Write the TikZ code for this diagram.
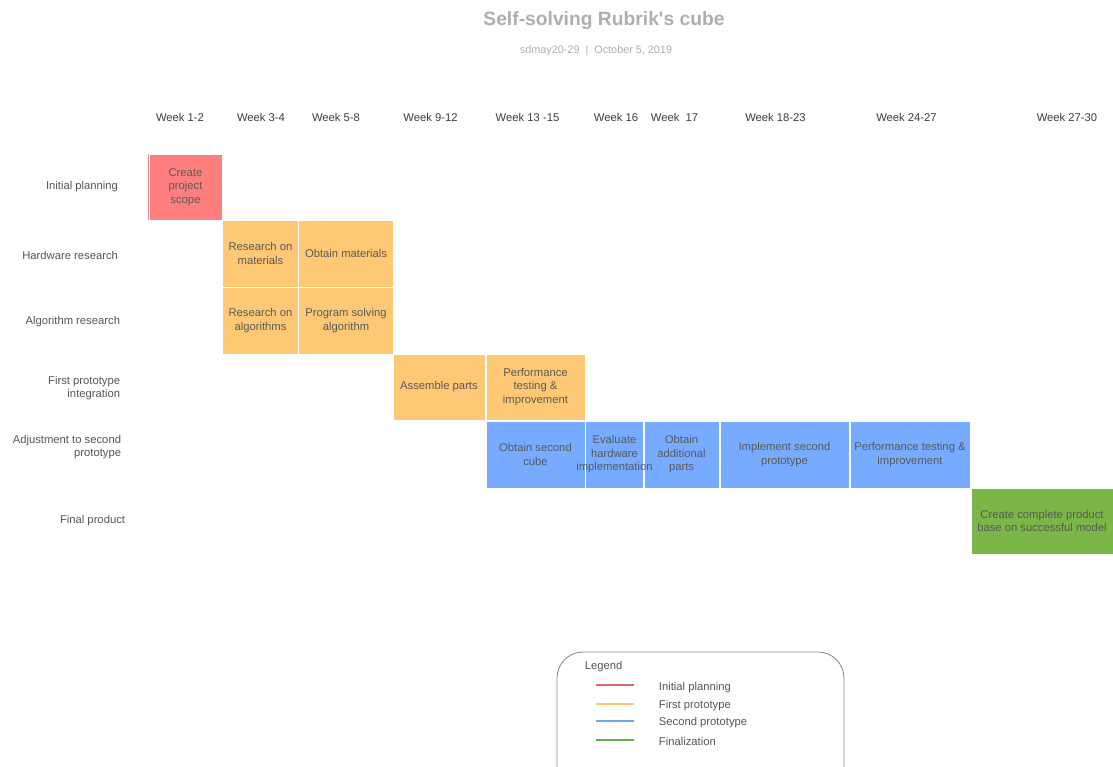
\documentclass[tikz,border=0pt]{standalone}
\usepackage{fontspec}
\setmainfont{Liberation Sans}
\definecolor{planred}{HTML}{FF7F7F}
\definecolor{planedge}{HTML}{E88A96}
\definecolor{protoorange}{HTML}{FFC874}
\definecolor{secondblue}{HTML}{76ABFF}
\definecolor{finalgreen}{HTML}{7AB648}
\definecolor{titlegray}{HTML}{AEAEAE}
\definecolor{weektext}{HTML}{3C3C3C}
\definecolor{rowtext}{HTML}{555555}
\definecolor{boxtext}{HTML}{5A5A5A}
\definecolor{legendline}{HTML}{8A8A8A}
\definecolor{legred}{HTML}{E06666}
\definecolor{legorange}{HTML}{FFC874}
\definecolor{legblue}{HTML}{6FA8DC}
\definecolor{leggreen}{HTML}{6AA84F}
\tikzset{
  small/.style={font=\fontsize{8}{9.6}\selectfont},
  weeklabel/.style={small, text=weektext},
  rowlabel/.style={small, text=rowtext, align=right, anchor=east},
  taskbox/.style={small, text=boxtext, align=center, draw=white, line width=0.5pt, inner sep=1pt,
                  minimum width=#1*0.025cm},
  taskboxh/.style={minimum height=#1*0.025cm},
  legendtext/.style={small, text=rowtext, anchor=west},
}
\begin{document}
\begin{tikzpicture}[x=0.025cm, y=-0.025cm]
                \useasboundingbox (0,0) rectangle (1113,767);
                \node[font=\bfseries\fontsize{13.7}{16}\selectfont, text=titlegray] (title) at (604,21) {Self-solving Rubrik\textquotesingle s cube};
                \node[font=\fontsize{7.7}{9}\selectfont, text=titlegray] (subtitle) at (596,51) {sdmay20-29 \ | \ October 5, 2019};

                \node[weeklabel] (w1) at (180,117) {Week 1-2};
                \node[weeklabel] (w3) at (261,117) {Week 3-4};
                \node[weeklabel] (w5) at (336,117) {Week 5-8};
                \node[weeklabel] (w9) at (430.5,117) {Week 9-12};
                \node[weeklabel] (w13) at (527.5,117) {Week 13 -15};
                \node[weeklabel] (w16) at (616,117) {Week 16};
                \node[weeklabel] (w17) at (674.5,117) {Week\ \ 17};
                \node[weeklabel] (w18) at (775.5,117) {Week 18-23};
                \node[weeklabel] (w24) at (906.5,117) {Week 24-27};
                \node[weeklabel] (w27) at (1067,117) {Week 27-30};

                \node[rowlabel] (planning) at (123,187) {Initial planning};
                \node[rowlabel] (hardware) at (123,255) {Hardware research};
                \node[rowlabel] (algorithm) at (125,322) {Algorithm research};
                \node[rowlabel] (firstproto) at (125,388) {First prototype\\integration};
                \node[rowlabel] (adjust) at (126,447) {Adjustment to second\\prototype};
                \node[rowlabel] (finalrow) at (130,521) {Final product};

                \node[taskbox=73, taskboxh=66, fill=planred] (scope) at (185.5,187) {Create\\project\\scope};
                \draw[planedge, line width=1pt] (scope.north west) -- (scope.south west);

                \node[taskbox=76, taskboxh=67, fill=protoorange] (resmat) at (260.5,253.5) {Research on\\materials};
                \node[taskbox=95, taskboxh=67, fill=protoorange] (obtmat) at (346,253.5) {Obtain materials};
                \node[taskbox=76, taskboxh=67, fill=protoorange] (resalg) at (260.5,320.5) {Research on\\algorithms};
                \node[taskbox=95, taskboxh=67, fill=protoorange] (progalg) at (346,320.5) {Program solving\\algorithm};
                \node[taskbox=92, taskboxh=66, fill=protoorange] (assemble) at (439,387) {Assemble parts};
                \node[taskbox=99, taskboxh=66, fill=protoorange] (perfone) at (535.5,387) {Performance\\testing \&\\improvement};

                \node[taskbox=99, taskboxh=67, fill=secondblue] (cube) at (535.5,454.5) {Obtain second\\cube};
                \node[taskbox=75, taskboxh=67, fill=secondblue] (addparts) at (681.5,454.5) {Obtain\\additional\\parts};
                \node[taskbox=58, taskboxh=67, fill=secondblue] (evalhw) at (614.5,454.5) {Evaluate\\hardware\\\makebox[0pt]{implementation}};
                \node[taskbox=129, taskboxh=67, fill=secondblue] (implement) at (784.5,454.5) {Implement second\\prototype};
                \node[taskbox=120, taskboxh=67, fill=secondblue] (perftwo) at (910,454.5) {Performance testing \&\\improvement};

                \node[taskbox=142, taskboxh=66, fill=finalgreen] (product) at (1042,521) {Create complete product\\base on successful model};

                \draw[legendline, line width=0.6pt, rounded corners=0.65cm] (557,652) rectangle (844,800);
                \node[legendtext] (legend) at (580,667) {Legend};
                \draw[legred, line width=0.8pt] (596,685) -- (634,685);
                \draw[legorange, line width=0.8pt] (596,704) -- (634,704);
                \draw[legblue, line width=0.8pt] (596,721) -- (634,721);
                \draw[leggreen, line width=0.8pt] (596,740) -- (634,740);
                \node[legendtext] (legplan) at (654,688) {Initial planning};
                \node[legendtext] (legfirst) at (654,706) {First prototype};
                \node[legendtext] (legsecond) at (654,723) {Second prototype};
                \node[legendtext] (legfinal) at (654,741) {Finalization};
            \end{tikzpicture}
\end{document}
